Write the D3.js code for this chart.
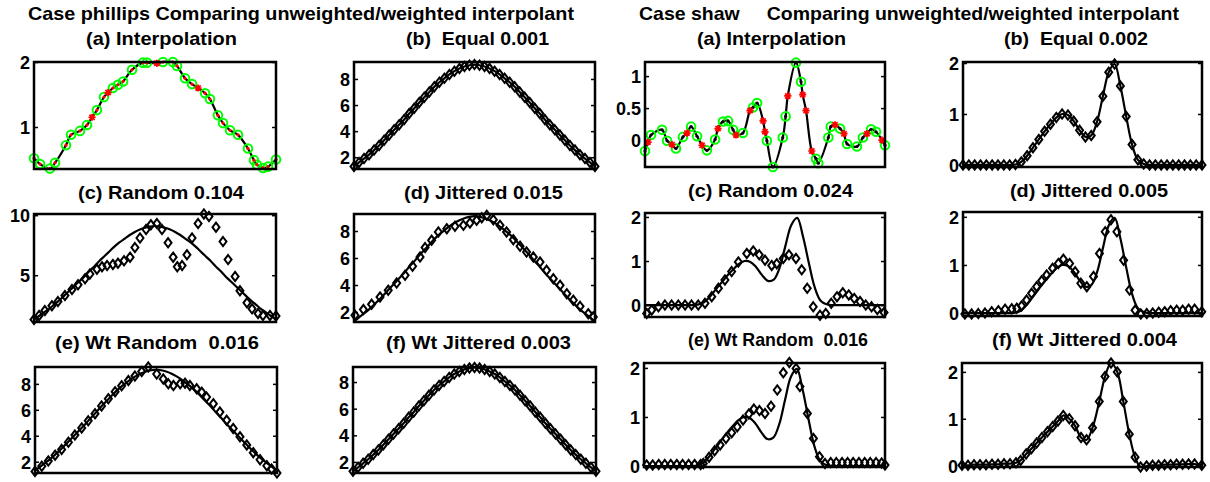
<!DOCTYPE html>
<html><head><meta charset="utf-8">
<script src="https://cdn.jsdelivr.net/npm/d3@7"></script>
<style>
body{margin:0;background:#fff}
svg{display:block;background:#fff}
text{font-family:"Liberation Sans",Arial,Helvetica,sans-serif;font-weight:bold;fill:#000;white-space:pre}
</style>
</head><body>
<svg id="chart" width="1210" height="482"></svg>
<script>
// ================= DATA =================
const mainTitles = ["Case phillips Comparing unweighted/weighted interpolant",
                    "Case shaw     Comparing unweighted/weighted interpolant"];
const phTitles = ["(a) Interpolation","(b)  Equal 0.001","(c) Random 0.104","(d) Jittered 0.015","(e) Wt Random  0.016","(f) Wt Jittered 0.003"];
const shTitles = ["(a) Interpolation","(b)  Equal 0.002","(c) Random 0.024","(d) Jittered 0.005","(e) Wt Random  0.016","(f) Wt Jittered 0.004"];

const phTicksA = [1, 2];
const phTicksMain = [2, 4, 6, 8];
const phTicksC = [5, 10];
const shTicksA = [0, 0.5, 1];
const shTicksMain = [0, 1, 2];

// phillips true solution, evenly spaced samples (49)
const phTrue = [1.3,1.6,1.9,2.2,2.55,2.9,3.3,3.7,4.1,4.5,4.9,5.35,5.75,6.2,6.6,7.0,7.4,7.75,8.05,8.35,8.6,8.8,8.95,9.05,9.1,
                9.05,8.95,8.8,8.6,8.35,8.05,7.75,7.4,7.0,6.6,6.2,5.75,5.35,4.9,4.5,4.1,3.7,3.3,2.9,2.55,2.2,1.9,1.6,1.3];

// phillips (a) interpolation points
const phA_x = [0,0.025,0.066,0.087,0.132,0.153,0.19,0.219,0.24,0.26,0.289,0.306,0.326,0.347,0.368,0.405,0.45,0.467,0.508,0.533,
               0.574,0.591,0.624,0.653,0.678,0.707,0.727,0.76,0.781,0.81,0.843,0.884,0.909,0.921,0.946,0.967,1];
const phA_y = [0.52,0.43,0.36,0.45,0.72,0.88,0.94,1.03,1.15,1.26,1.46,1.53,1.60,1.65,1.70,1.88,1.99,1.99,1.98,2.0,
               2.0,1.94,1.75,1.66,1.6,1.52,1.43,1.18,1.06,0.95,0.88,0.67,0.49,0.42,0.37,0.39,0.50];
const phA_kind = ["c","c","c","c","c","c","c","c","s","c","c","s","c","c","c","c","c","c","s","c",
                  "c","c","c","c","s","c","c","c","c","c","c","c","c","c","c","c","c"];

// phillips (c) random
const phC_x = [0,0.021,0.045,0.074,0.099,0.128,0.157,0.182,0.211,0.231,0.26,0.281,0.302,0.326,0.347,0.372,0.397,0.417,0.438,0.463,
               0.483,0.508,0.529,0.554,0.575,0.592,0.612,0.632,0.653,0.678,0.702,0.723,0.752,0.781,0.802,0.831,0.851,0.88,0.901,0.926,
               0.946,0.975,1.0];
const phC_y = [1.3,1.65,2.05,2.45,2.8,3.3,3.8,4.2,4.7,5.1,5.5,5.7,5.8,5.9,6.0,6.2,6.5,7.3,8.1,8.8,
               9.2,9.3,8.8,7.7,6.5,5.7,5.8,6.7,8.1,9.3,10.1,9.9,9.0,7.8,6.3,4.9,3.7,2.7,2.2,1.8,
               1.65,1.65,1.6];

// phillips (d) jittered
const phD_x = [0.004,0.039,0.073,0.108,0.142,0.177,0.212,0.243,0.274,0.295,0.322,0.35,0.385,0.419,0.454,0.481,0.509,0.53,0.551,0.578,
               0.606,0.633,0.661,0.689,0.716,0.744,0.772,0.799,0.827,0.855,0.883,0.91,0.938,0.972,0.993];
const phD_y = [1.76,2.18,2.57,3.11,3.61,4.15,4.72,5.39,6.08,6.77,7.31,7.93,8.17,8.35,8.42,8.59,8.79,8.99,9.16,8.84,
               8.42,7.93,7.36,6.87,6.44,6.07,5.7,5.09,4.47,3.98,3.36,2.87,2.42,1.88,1.63];

// phillips (e) weighted random
const phE_x = [0,0.028,0.055,0.083,0.11,0.138,0.165,0.193,0.22,0.248,0.275,0.303,0.331,0.358,0.386,0.413,0.441,0.468,
               0.503,0.530,0.551,0.572,0.6,0.62,0.64,0.668,0.689,0.709,0.737,0.764,0.792,0.819,0.847,0.875,0.902,0.93,0.958,0.978,1.0];
const phE_y = [1.25,1.65,2.05,2.5,2.95,3.5,4.05,4.6,5.15,5.7,6.3,6.85,7.4,7.85,8.25,8.6,8.95,9.3,
               8.76,8.38,8.0,7.87,8.0,8.05,7.87,7.62,7.36,6.98,6.47,5.83,5.2,4.56,3.92,3.29,2.7,2.15,1.69,1.43,1.13];

// shaw true solution, evenly spaced samples (42)
const shTrue = [0,0,0,0,0,0,0,0,0,0.01,0.06,0.18,0.34,0.5,0.66,0.8,0.93,1.0,0.98,0.86,
                0.68,0.55,0.58,0.85,1.35,1.82,1.98,1.55,0.95,0.4,0.1,0.02,0,0,0,0,0,0,0,0,0,0];

// shaw (a) interpolation points
const shA_x = [0,0.0125,0.025,0.071,0.092,0.1125,0.129,0.158,0.175,0.192,0.217,0.2375,0.258,0.292,0.304,0.325,0.346,0.367,0.379,0.408,
               0.4375,0.45,0.467,0.492,0.5,0.508,0.533,0.574,0.586,0.595,0.629,0.65,0.657,0.671,0.695,0.7125,0.722,0.764,0.774,0.792,
               0.8125,0.829,0.842,0.883,0.908,0.925,0.942,0.9625,0.9875,1.0];
const shA_y = [-0.17,-0.03,0.08,0.16,-0.01,-0.07,-0.13,0.05,0.11,0.21,0.06,-0.08,-0.16,0.01,0.18,0.29,0.30,0.16,0.08,0.11,
               0.46,0.51,0.58,0.30,0.13,-0.01,-0.42,0.04,0.37,0.69,1.21,0.91,0.71,0.46,-0.17,-0.29,-0.36,0.04,0.21,0.24,
               0.18,0.10,-0.06,-0.10,0.04,0.10,0.17,0.13,0.0,-0.08];
const shA_kind = ["c","s","c","c","c","s","c","c","s","c","c","s","c","c","s","c","c","c","s","c",
                  "s","c","c","s","s","c","c","c","c","s","c","c","s","s","s","c","c","c","c","s",
                  "c","s","c","c","c","s","c","c","s","c"];

// shaw (c) random
const shC_x = [0.007,0.028,0.056,0.083,0.111,0.139,0.167,0.194,0.222,0.25,0.278,0.306,0.333,0.361,0.389,0.424,0.451,0.476,0.5,0.528,
               0.549,0.576,0.6,0.629,0.653,0.676,0.701,0.729,0.753,0.776,0.8,0.824,0.849,0.872,0.896,0.92,0.944,0.968,0.996];
const shC_y = [-0.19,-0.11,-0.04,0.0,0.0,0.0,0.0,0.0,0.0,0.04,0.19,0.38,0.57,0.76,0.98,1.17,1.23,1.14,1.02,0.9,
               0.94,1.06,1.14,1.06,0.80,0.38,-0.04,-0.23,-0.19,0.04,0.19,0.28,0.23,0.15,0.08,0.0,-0.04,-0.1,-0.17];

// shaw (d) jittered
const shD_x = [0.008,0.036,0.064,0.092,0.12,0.148,0.176,0.204,0.225,0.245,0.266,0.287,0.308,0.329,0.35,0.375,0.399,0.42,0.446,0.469,
               0.493,0.518,0.546,0.571,0.595,0.619,0.644,0.672,0.697,0.72,0.744,0.769,0.794,0.819,0.844,0.869,0.894,0.919,0.944,0.969,0.999];
const shD_y = [-0.02,-0.02,-0.01,0.0,0.03,0.05,0.08,0.09,0.10,0.15,0.27,0.41,0.55,0.67,0.79,0.93,1.03,1.12,1.03,0.86,
               0.62,0.55,0.76,1.24,1.69,1.94,1.69,1.1,0.48,0.06,-0.02,-0.01,0.0,0.02,0.03,0.05,0.06,0.06,0.08,0.08,0.03];

// shaw (e) weighted random
const shE_x = [0.011,0.036,0.061,0.086,0.111,0.136,0.16,0.185,0.21,0.235,0.246,0.27,0.293,0.316,0.34,0.364,0.387,0.411,0.435,
               0.456,0.479,0.502,0.527,0.553,0.578,0.603,0.631,0.647,0.678,0.703,0.728,0.751,
               0.775,0.798,0.822,0.845,0.868,0.892,0.916,0.939,0.963,0.986,1.0];
const shE_y = [0.02,0.02,0.03,0.03,0.03,0.03,0.03,0.03,0.03,0.03,0.05,0.18,0.31,0.43,0.56,0.68,0.80,0.94,1.06,
               1.16,1.13,1.07,1.22,1.55,1.9,2.11,1.99,1.62,1.07,0.56,0.19,0.05,
               0.07,0.07,0.07,0.07,0.07,0.07,0.07,0.07,0.07,0.06,0.02];

// shaw (f) weighted jittered
const shF_x = [0,0.025,0.05,0.075,0.1,0.125,0.15,0.175,0.2,0.225,0.244,0.267,0.289,0.311,0.333,0.356,0.378,0.4,0.422,
               0.447,0.471,0.496,0.519,0.544,0.572,0.596,0.621,0.647,0.672,0.697,0.721,0.744,0.769,
               0.794,0.819,0.844,0.869,0.894,0.919,0.944,0.969,0.999];
const shF_y = [0.006,0.006,0.02,0.02,0.02,0.027,0.027,0.04,0.04,0.06,0.11,0.25,0.36,0.48,0.6,0.72,0.835,0.95,1.07,
               1.0,0.85,0.6,0.55,0.81,1.37,1.9,2.19,2.0,1.37,0.67,0.18,-0.03,-0.01,
               0.006,0.006,0.02,0.02,0.027,0.027,0.034,0.034,0.006];

// ================= HELPERS =================
const svg = d3.select("#chart");
const even = arr => arr.map((v,i) => ({x: i/(arr.length-1), y: v}));
const zip = (xs, ys, ks) => xs.map((x,i) => ({x, y: ys[i], k: ks ? ks[i] : null}));

const DIAMOND = "M0,-4.6L3.5,0L0,4.6L-3.5,0Z";
const STAR = "M-3.6,0H3.6M0,-3.6V3.6M-2.6,-2.6L2.6,2.6M-2.6,2.6L2.6,-2.6";

function label(txt, x0, x1, yb){
  svg.append("text").attr("x", x0).attr("y", yb)
    .attr("font-size", 19).attr("textLength", x1 - x0).attr("lengthAdjust", "spacingAndGlyphs")
    .text(txt);
}

function panel(p){
  const [L,T,R,B] = p.box;
  const x = d3.scaleLinear().domain([0,1]).range([L,R]);
  const y = d3.scaleLinear().domain(p.ydom).range([B,T]);
  const g = svg.append("g");
  const fmt = d3.format("~g");
  const ax = g.append("g").attr("transform",`translate(${L},0)`)
     .call(d3.axisLeft(y).tickValues(p.ticks).tickSize(-4).tickPadding(4).tickFormat(fmt));
  ax.select(".domain").remove();
  ax.selectAll("line").attr("stroke","#000").attr("stroke-width",1.5);
  ax.selectAll("text").attr("font-size",18).attr("font-family",'"Liberation Sans",Arial,sans-serif')
    .attr("font-weight","bold").attr("dy","0.36em");
  ax.attr("font-size",null).attr("font-family",null);
  const axr = g.append("g").attr("transform",`translate(${R},0)`)
     .call(d3.axisRight(y).tickValues(p.ticks).tickSize(-4).tickFormat(""));
  axr.select(".domain").remove();
  axr.selectAll("line").attr("stroke","#000").attr("stroke-width",1.5);

  const line = d3.line().x(d=>x(d.x)).y(d=>y(d.y)).curve(d3.curveCatmullRom.alpha(0.5));
  if (p.line) g.append("path").attr("d", line(p.line)).attr("fill","none").attr("stroke","#000").attr("stroke-width",2.2);

  if (p.diamonds) g.selectAll(null).data(p.diamonds).join("path")
      .attr("d", DIAMOND).attr("transform", d=>`translate(${x(d.x)},${y(d.y)})`)
      .attr("fill","none").attr("stroke","#000").attr("stroke-width",2);

  if (p.interp){
    const pts = p.interp;
    g.selectAll(null).data(pts.filter(d=>d.k==="c")).join("circle")
      .attr("cx", d=>x(d.x)).attr("cy", d=>y(d.y)).attr("r", 4.3)
      .attr("fill","none").attr("stroke","#00ff00").attr("stroke-width",2);
    g.selectAll(null).data(pts.filter(d=>d.k==="c")).join("circle")
      .attr("cx", d=>x(d.x)).attr("cy", d=>y(d.y)).attr("r", 1.6)
      .attr("fill", p.dot);
    g.selectAll(null).data(pts.filter(d=>d.k==="s")).join("path")
      .attr("d", STAR).attr("transform", d=>`translate(${x(d.x)},${y(d.y)})`)
      .attr("fill","none").attr("stroke","#ff0000").attr("stroke-width",1.7);
  }
  g.append("rect").attr("x",L).attr("y",T).attr("width",R-L).attr("height",B-T)
    .attr("fill","none").attr("stroke","#000").attr("stroke-width",2.5);
  label(p.title, p.tpos[0], p.tpos[1], p.tpos[2]);
}

// ================= LAYOUT =================
label(mainTitles[0], 28, 574, 20);
label(mainTitles[1], 639, 1179, 20);

const phAll = zip(phA_x, phA_y, phA_kind);
const shAll = zip(shA_x, shA_y, shA_kind);

const panels = [
  {box:[34,62,276,169], ydom:[0.354,2.0], ticks:phTicksA, title:phTitles[0], tpos:[86,237,45],
   line: phAll, interp: phAll, dot:"#ff0000"},
  {box:[354,62,595,169], ydom:[1.1,9.3], ticks:phTicksMain, title:phTitles[1], tpos:[406,549,45],
   line: even(phTrue), diamonds: even(phTrue)},
  {box:[34,214,276,322], ydom:[1.1,10.1], ticks:phTicksC, title:phTitles[2], tpos:[78,244,199],
   line: even(phTrue), diamonds: zip(phC_x, phC_y)},
  {box:[354,214,595,322], ydom:[1.26,9.26], ticks:phTicksMain, title:phTitles[3], tpos:[404,563,199],
   line: even(phTrue), diamonds: zip(phD_x, phD_y)},
  {box:[35,367,277,473], ydom:[1.13,9.3], ticks:phTicksMain, title:phTitles[4], tpos:[55,259,349],
   line: even(phTrue), diamonds: zip(phE_x, phE_y)},
  {box:[353,367,596,473], ydom:[1.17,9.13], ticks:phTicksMain, title:phTitles[5], tpos:[386,571,349],
   line: even(phTrue), diamonds: even(phTrue)},

  {box:[645,62,885,167], ydom:[-0.42,1.22], ticks:shTicksA, title:shTitles[0], tpos:[697,846,45],
   line: shAll, interp: shAll, dot:"#000"},
  {box:[963,62,1202,167], ydom:[-0.04,2.02], ticks:shTicksMain, title:shTitles[1], tpos:[1004,1148,45],
   line: even(shTrue), diamonds: even(shTrue)},
  {box:[645,213,885,317], ydom:[-0.27,2.09], ticks:shTicksMain, title:shTitles[2], tpos:[688,853,197],
   line: even(shTrue), diamonds: zip(shC_x, shC_y)},
  {box:[963,212,1202,316], ydom:[-0.06,2.1], ticks:shTicksMain, title:shTitles[3], tpos:[1010,1168,197],
   line: even(shTrue), diamonds: zip(shD_x, shD_y)},
  {box:[644,363,885,467], ydom:[-0.02,2.1], ticks:shTicksMain, title:shTitles[4], tpos:[688,868,346],
   line: even(shTrue), diamonds: zip(shE_x, shE_y)},
  {box:[962,363,1202,467], ydom:[-0.03,2.19], ticks:shTicksMain, title:shTitles[5], tpos:[992,1177,346],
   line: zip(shF_x, shF_y), diamonds: zip(shF_x, shF_y)}
];
panels.forEach(panel);
</script>
</body></html>
